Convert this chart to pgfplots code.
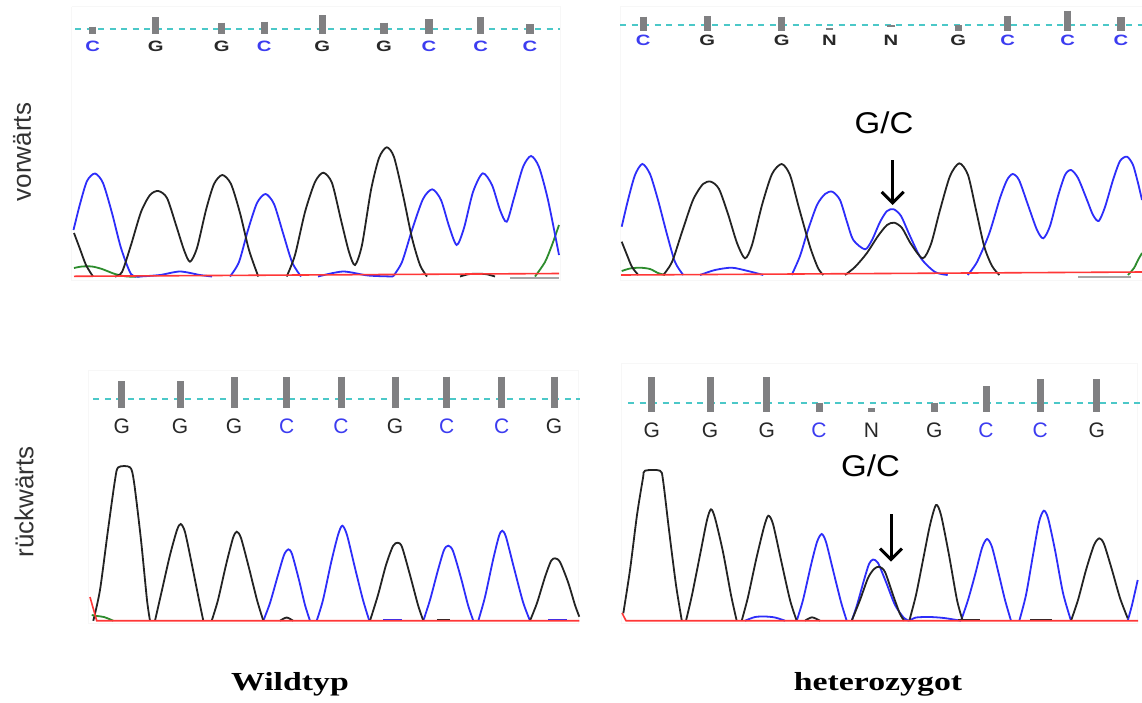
\documentclass[border=0pt]{standalone}
\usepackage{pgfplots}
\pgfplotsset{compat=1.18}
\usepackage{fontspec}
\setmainfont{Liberation Sans}
\newfontfamily\serifb{Liberation Serif}
\usetikzlibrary{arrows.meta}
\definecolor{cblue}{RGB}{45,45,250}
\definecolor{cblack}{RGB}{35,35,35}
\definecolor{cred}{RGB}{255,55,55}
\definecolor{cgreen}{RGB}{45,140,45}
\definecolor{ccyan}{RGB}{75,200,200}
\definecolor{cbar}{RGB}{128,128,130}
\definecolor{lblue}{RGB}{60,60,240}
\definecolor{lblack}{RGB}{40,40,40}
\definecolor{frame}{RGB}{247,247,247}
\pgfplotsset{
  trace/.style={smooth, tension=0.45, line width=1.8pt, mark=none},
  qbar/.style={cbar, line width=7.5pt, unbounded coords=jump, mark=none},
  dline/.style={ccyan, line width=2pt, dash pattern=on 6pt off 5.5pt, mark=none},
  fr/.style={frame, line width=0.8pt, mark=none},
  arr/.style={black, line width=3pt, -{Straight Barb[length=11pt, width=22pt, line width=3pt]}},
}
\newcommand{\tl}[4]{\node[font=\fontsize{15}{15}\selectfont\bfseries, text=#3, xscale=1.35, inner sep=0pt] at (axis cs:#1,#2) {#4};}
\newcommand{\bll}[4]{\node[font=\fontsize{21}{21}\selectfont, text=#3, inner sep=0pt] at (axis cs:#1,#2) {#4};}
\begin{document}
\begin{tikzpicture}
\path[use as bounding box, fill=white] (0,0) rectangle (1142pt,702pt);
\begin{axis}[at={(0,0)}, anchor=south west, width=1142pt, height=702pt, scale only axis,
  xmin=0, xmax=1142, ymin=0, ymax=702, y dir=reverse, hide axis, clip=false]

% faint panel frames
\addplot[fr] coordinates {(71.7,6.7) (560,6.7) (560,280) (71.7,280) (71.7,6.7)};
\addplot[fr] coordinates {(1142,6.7) (620,6.7) (620,280) (1142,280)};
\addplot[fr] coordinates {(88.3,370) (578.3,370) (578.3,623.3) (88.3,623.3) (88.3,370)};
\addplot[fr] coordinates {(621.7,363) (1137.7,363) (1137.7,623.3) (621.7,623.3) (621.7,363)};

% dashed reference lines
\addplot[dline] coordinates {(75,29) (560,29)};
\addplot[dline] coordinates {(620,25) (1142,25)};
\addplot[dline] coordinates {(93.3,399) (580,399)};
\addplot[dline] coordinates {(628,402.7) (1142,402.7)};

% quality bars
\addplot[qbar] coordinates {(92.7,26.7) (92.7,34.3) (92.7,nan) (155.7,17.3) (155.7,34.3) (155.7,nan) (221.7,22.7) (221.7,34.3) (221.7,nan) (264.3,21.7) (264.3,34.3) (264.3,nan) (322.3,15) (322.3,34.3) (322.3,nan) (384,22.7) (384,34.3) (384,nan) (429,19.3) (429,34.3) (429,nan) (480.7,17.3) (480.7,34.3) (480.7,nan) (530,24) (530,34.3)};
\addplot[qbar] coordinates {(643.3,16.7) (643.3,30.5) (643.3,nan) (707.3,16) (707.3,30.5) (707.3,nan) (781.7,16.7) (781.7,30.5) (781.7,nan) (829.3,28.3) (829.3,30.3) (829.3,nan) (891,25) (891,27.2) (891,nan) (958.3,25) (958.3,30.5) (958.3,nan) (1007.7,16) (1007.7,30.5) (1007.7,nan) (1067.7,10.7) (1067.7,30.5) (1067.7,nan) (1121,17.3) (1121,30.5)};
\addplot[qbar, line width=7pt] coordinates {(121.7,381) (121.7,408.3) (121.7,nan) (180,381) (180,408.3) (180,nan) (234,377.3) (234,408.3) (234,nan) (286.7,377.3) (286.7,408.3) (286.7,nan) (341,376.7) (341,408.3) (341,nan) (395,376.7) (395,408.3) (395,nan) (446.7,376.7) (446.7,408.3) (446.7,nan) (501.7,376.7) (501.7,408.3) (501.7,nan) (554,376.7) (554,408.3)};
\addplot[qbar, line width=7pt] coordinates {(651.7,377.3) (651.7,412.3) (651.7,nan) (710,377.3) (710,412.3) (710,nan) (766.7,377.3) (766.7,412.3) (766.7,nan) (819,402.7) (819,412.3) (819,nan) (871.5,408) (871.5,412.3) (871.5,nan) (934.3,402.7) (934.3,412.3) (934.3,nan) (986,386) (986,412.3) (986,nan) (1040.3,379.3) (1040.3,412.3) (1040.3,nan) (1096.7,379.3) (1096.7,412.3)};

% base letters
\tl{92.7}{46.7}{lblue}{C}\tl{155.7}{46.7}{lblack}{G}\tl{221.7}{46.7}{lblack}{G}
\tl{264.3}{46.7}{lblue}{C}\tl{322.3}{46.7}{lblack}{G}\tl{384}{46.7}{lblack}{G}
\tl{429}{46.7}{lblue}{C}\tl{480.7}{46.7}{lblue}{C}\tl{530}{46.7}{lblue}{C}
\tl{643.3}{40.7}{lblue}{C}\tl{707.3}{40.7}{lblack}{G}\tl{781.7}{40.7}{lblack}{G}
\tl{829.3}{40.7}{lblack}{N}\tl{891}{40.7}{lblack}{N}\tl{958.3}{40.7}{lblack}{G}
\tl{1007.7}{40.7}{lblue}{C}\tl{1067.7}{40.7}{lblue}{C}\tl{1121}{40.7}{lblue}{C}
\bll{121.7}{426.7}{lblack}{G}\bll{180}{426.7}{lblack}{G}\bll{234}{426.7}{lblack}{G}
\bll{286.7}{426.7}{lblue}{C}\bll{341}{426.7}{lblue}{C}\bll{395}{426.7}{lblack}{G}
\bll{446.7}{426.7}{lblue}{C}\bll{501.7}{426.7}{lblue}{C}\bll{554}{426.7}{lblack}{G}
\bll{651.7}{430}{lblack}{G}\bll{710}{430}{lblack}{G}\bll{766.7}{430}{lblack}{G}
\bll{819}{430}{lblue}{C}\bll{871.5}{430}{lblack}{N}\bll{934.3}{430}{lblack}{G}
\bll{986}{430}{lblue}{C}\bll{1040.3}{430}{lblue}{C}\bll{1096.7}{430}{lblack}{G}

% ---------- panel 1: forward, wild type ----------
\addplot[trace, cgreen] coordinates {(74,268) (82,266.5) (92,266.5) (102,269) (115,274) (127,276.5) (140,276.5)};
\addplot[trace, cgreen] coordinates {(535,276.5) (545,262) (552,245) (559,225)};
\addplot[trace, cblue] coordinates {(73.5,230) (80,204) (87,181) (95,173.5) (103,183) (112,213) (121,248) (131,274) (140,276.5)};
\addplot[trace, cblue] coordinates {(140,276.5) (160,275) (180,271.5) (200,275) (212,276.5)};
\addplot[trace, cblue] coordinates {(230,276.5) (239,262) (248,230) (257,203) (265.5,194) (274,204) (283,233) (292,262) (301,276.5)};
\addplot[trace, cblue] coordinates {(318,276.5) (343,271.5) (368,275.5) (393,276.5)};
\addplot[trace, cblue] coordinates {(393,276.5) (402,262) (412,230) (423,199) (432.3,189.3) (441,200) (449,226) (456.7,245) (464,228) (473,192) (482.7,173.3) (492,185) (500,210) (506.7,221.7) (514,198) (523,167) (531,156) (539,167) (548,200) (559,255)};
\addplot[trace, cblack] coordinates {(74,233) (80,249) (86,265) (93,276.5)};
\addplot[trace, cblack] coordinates {(115,276.5) (122,272) (131,245) (141,212) (150,195) (158.3,191) (167,198) (176,225) (184,250) (190,261.7) (197,248) (206,210) (214,184) (222.3,175) (231,184) (240,213) (249,250) (258.3,276.5)};
\addplot[trace, cblack] coordinates {(286.7,276.5) (295,255) (305,212) (315,182) (323.3,172.7) (332,183) (341,220) (349,252) (355,265) (362,245) (371,190) (379,158) (386.7,147.3) (394,157) (403,195) (412,238) (420,265) (427,276.5)};
\addplot[trace, cblack] coordinates {(460,276.5) (470,274) (485,274) (495,276.5)};
\addplot[gray!70, line width=2pt] coordinates {(510,278) (559,278)};
\addplot[cred, line width=1.6pt] coordinates {(74,276.3) (559,273.5)};

% ---------- panel 2: forward, heterozygous ----------
\addplot[trace, cgreen] coordinates {(621.7,271) (630,268.5) (640,267.7) (650,269) (658,273) (665,275)};
\addplot[trace, cgreen] coordinates {(1128,275) (1134,268) (1138,260) (1142,253)};
\addplot[trace, cblue] coordinates {(621.7,226.7) (628,200) (635,175) (642.3,164) (650,174) (658,200) (666.7,233.3) (675,262) (683.3,275)};
\addplot[trace, cblue] coordinates {(700,275) (715,270) (731.7,267.7) (748,271) (763.3,275)};
\addplot[trace, cblue] coordinates {(791.7,275) (800,256) (808,230) (817,205) (825,194) (832.3,191.7) (840,200) (847,222) (853.3,240) (865,249.3) (872,240) (880,222) (887,211) (893.7,209.3) (901,216) (910,236) (921,258.3) (935,272) (947.7,275)};
\addplot[trace, cblue] coordinates {(967.7,275) (977,262) (989.3,233.3) (1000,198) (1007,180) (1012.7,174) (1019,180) (1028,205) (1037,230) (1043.3,238.3) (1050,226) (1058,196) (1065,175) (1071,170) (1078,178) (1087,200) (1093,215) (1098.7,221) (1105,207) (1113,180) (1120,161) (1127,156.7) (1133,165) (1138,183) (1142,200)};
\addplot[trace, cblack] coordinates {(621.7,241.7) (627,255) (632,267) (638.3,275)};
\addplot[trace, cblack] coordinates {(663.3,275) (672,262) (682,232) (693,200) (703,184) (711,181.7) (719,189) (728,214) (737,243) (745,258.3) (752,245) (762,205) (772,174) (781.7,164) (790,175) (799,208) (810,246.7) (818,268) (823.3,275)};
\addplot[trace, cblack] coordinates {(845,275) (855,267) (866.7,253.3) (878,236) (887,225) (894.3,222.7) (902,228) (911,244) (922.7,258.3) (931,244) (940,210) (950,176) (959.3,163.3) (968,175) (976,210) (984.3,246.7) (992,266) (999.3,275)};
\addplot[gray!70, line width=2pt] coordinates {(1078,276.5) (1131,276.5)};
\addplot[cred, line width=1.6pt] coordinates {(621,275) (1142,272)};

% ---------- panel 3: reverse, wild type ----------
\addplot[trace, cblue] coordinates {(263.3,620.7) (270,603) (278,575) (284,555) (288.3,549.3) (292,554) (299,580) (305,605) (310,620.7)};
\addplot[trace, cblue] coordinates {(316.7,620.7) (323,600) (331,563) (338,535) (342.3,525.7) (347,535) (355,568) (363,600) (369.3,620.7)};
\addplot[trace, cblue] coordinates {(423.3,620.7) (430,600) (438,570) (444,550) (448.3,545.7) (453,551) (461,578) (468,605) (473.3,620.7)};
\addplot[trace, cblue] coordinates {(478.3,620.7) (485,597) (493,560) (499,536) (502.3,530.7) (506,537) (514,568) (523,602) (530,620.7)};
\addplot[trace, cblack] coordinates {(93.3,620.7) (100,590) (108,530) (115,480) (118.3,467.3) (130,467.3) (134,482) (141,540) (147,600) (150,620.7)};
\addplot[trace, cblack] coordinates {(155,620.7) (162,590) (170,555) (177,530) (180.7,524) (185,532) (192,565) (199,600) (203.3,620.7)};
\addplot[trace, cblack] coordinates {(211.7,620.7) (218,600) (226,565) (233,538) (236.7,531.7) (241,538) (249,568) (257,600) (263.3,620.7)};
\addplot[trace, cblack] coordinates {(280,620.7) (286.7,617.5) (293,620.7)};
\addplot[trace, cblack] coordinates {(370,620.7) (378,595) (386,565) (393,546) (397.7,542.7) (402,547) (410,575) (418,605) (423.3,620.7)};
\addplot[trace, cblack] coordinates {(530,620.7) (537,603) (545,577) (551,561) (555,558.3) (560,562) (568,582) (575,605) (579.3,616.7)};
\addplot[trace, cgreen] coordinates {(91.7,615) (97,616) (104,617) (113.3,620.7)};
\addplot[cblue, line width=2.2pt] coordinates {(383,619.8) (402,619.8)};
\addplot[cblue, line width=2.2pt] coordinates {(548,619.8) (567,619.8)};
\addplot[cblack, line width=2.2pt] coordinates {(437,619.8) (450,619.8)};
\addplot[cred, line width=1.6pt] coordinates {(90,597) (96.7,620.7) (579.3,620.7)};

% ---------- panel 4: reverse, heterozygous ----------
\addplot[trace, cblue] coordinates {(745,620.7) (755,617) (765,616.5) (775,617.5) (785,620.7)};
\addplot[trace, cblue] coordinates {(796.7,620.7) (803,600) (811,565) (817,542) (821.7,534) (826,542) (833,570) (841,602) (846.7,620.7)};
\addplot[trace, cblue] coordinates {(851.7,620.7) (857,605) (864,580) (869,564) (873,559.5) (878,563) (886,582) (895,605) (904,618) (909.3,620.7)};
\addplot[trace, cblue] coordinates {(909.3,620.7) (916,617.5) (930,617) (944,618) (961,620.7)};
\addplot[trace, cblue] coordinates {(961,620.7) (968,600) (975,575) (982,548) (987,539) (992,547) (999,575) (1005,600) (1011,620.7)};
\addplot[trace, cblue] coordinates {(1019.3,620.7) (1026,595) (1033,555) (1039,522) (1043.7,510.7) (1048,518) (1055,550) (1063,593) (1071,620.7)};
\addplot[trace, cblue] coordinates {(1127.7,620.7) (1132,605) (1137.7,580)};
\addplot[trace, cblack] coordinates {(623.3,613.3) (630,570) (637,515) (643,478) (645,470.7) (660,470.7) (663,480) (669,530) (676,585) (681.7,620)};
\addplot[trace, cblack] coordinates {(686,620.7) (692,595) (700,555) (707,520) (711,509.3) (715,518) (723,552) (731,595) (736.7,620.7)};
\addplot[trace, cblack] coordinates {(741.7,620.7) (748,597) (756,560) (764,527) (768.3,515.7) (773,524) (781,560) (790,600) (796.7,620.7)};
\addplot[trace, cblack] coordinates {(805,620.7) (812,617.3) (820,620.7)};
\addplot[trace, cblack] coordinates {(851.7,620.7) (860,600) (868,578) (874,569) (879.3,566.7) (885,572) (893,595) (900,614) (904.3,620.7)};
\addplot[trace, cblack] coordinates {(909.3,620.7) (916,595) (923,560) (930,525) (936,505) (941,515) (949,555) (957,600) (962.7,620.7)};
\addplot[trace, cblack] coordinates {(1071,620.7) (1078,600) (1086,570) (1094,545) (1099.3,538.3) (1104,544) (1112,570) (1120,598) (1127.7,618.3)};
\addplot[cblack, line width=2.2pt] coordinates {(1030,619.8) (1052,619.8)};
\addplot[cblack, line width=2.2pt] coordinates {(958,619.8) (980,619.8)};
\addplot[cred, line width=1.6pt] coordinates {(622,613) (626,620.7) (1138,620.7)};

% ---------- annotations ----------
\node[font=\fontsize{30}{30}\selectfont, xscale=1.1, inner sep=0pt, text=black] at (axis cs:884,122.5) {G/C};
\node[font=\fontsize{30}{30}\selectfont, xscale=1.1, inner sep=0pt, text=black] at (axis cs:870.5,466) {G/C};
\addplot[arr] coordinates {(892.7,160) (892.7,205)};
\addplot[arr] coordinates {(891,514) (891,561.7)};

\node[rotate=90, font=\fontsize{26}{26}\selectfont, text=black!80, inner sep=0pt] at (axis cs:22,152) {vorwärts};
\node[rotate=90, font=\fontsize{26}{26}\selectfont, text=black!80, inner sep=0pt] at (axis cs:24,502) {rückwärts};
\node[font=\serifb\bfseries\fontsize{26}{26}\selectfont, xscale=1.3, inner sep=0pt] at (axis cs:290,684) {Wildtyp};
\node[font=\serifb\bfseries\fontsize{26}{26}\selectfont, xscale=1.3, inner sep=0pt] at (axis cs:878,684) {heterozygot};
\end{axis}
\end{tikzpicture}
\end{document}
